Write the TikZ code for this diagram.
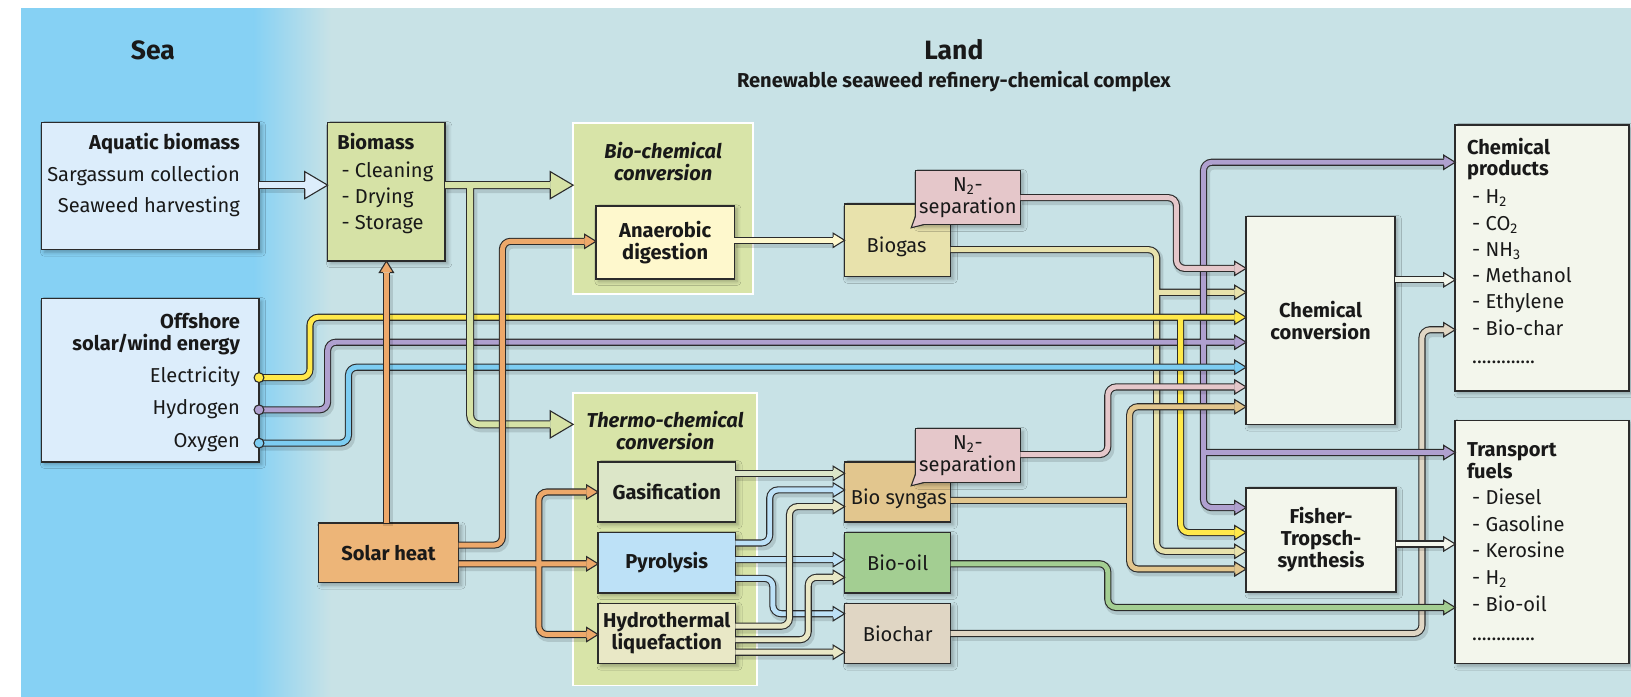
\documentclass[tikz,border=0pt]{standalone}
\usepackage{fontspec}
\setmainfont{Fira Sans}
\usetikzlibrary{calc, shadows.blur}

\definecolor{sea}{HTML}{86D1F4}
\definecolor{land}{HTML}{C8E2E6}
\definecolor{edge}{HTML}{2B2B2B}
\definecolor{aquafill}{HTML}{DCEDFB}
\definecolor{biomassfill}{HTML}{D6E2A6}
\definecolor{panelfill}{HTML}{D8E4A8}
\definecolor{anaerfill}{HTML}{FEF8CD}
\definecolor{gasiffill}{HTML}{DCE6C8}
\definecolor{pyrofill}{HTML}{BDE1F7}
\definecolor{hydrofill}{HTML}{E9E8C6}
\definecolor{solarfill}{HTML}{EDB578}
\definecolor{biogasfill}{HTML}{E8E2AC}
\definecolor{sepfill}{HTML}{E5C7CA}
\definecolor{syngasfill}{HTML}{E2C68E}
\definecolor{biooilfill}{HTML}{A3CE92}
\definecolor{biocharfill}{HTML}{E0D6C4}
\definecolor{productfill}{HTML}{F3F6EC}
\definecolor{elecpipe}{HTML}{FFE94A}
\definecolor{h2pipe}{HTML}{AFA0CF}
\definecolor{o2pipe}{HTML}{7DCDF2}
\definecolor{heatpipe}{HTML}{EDA86A}

% arrow heads, drawn on top of the pipe end (y axis runs downwards)
\newcommand{\tipE}[2]{%
  \fill[#1] (#2) -- ++(-11,-6.8) -- ++(0,13.6) -- cycle;
  \draw[tipline] ($(#2)+(-11,-3.4)$) -- ++(0,-3.4) -- (#2) -- ++(-11,6.8) -- ++(0,-3.4);}
\newcommand{\tipN}[2]{%
  \fill[#1] (#2) -- ++(-6.8,11) -- ++(13.6,0) -- cycle;
  \draw[tipline] ($(#2)+(-3.4,11)$) -- ++(-3.4,0) -- (#2) -- ++(6.8,11) -- ++(-3.4,0);}
\newcommand{\bigtipE}[2]{%
  \fill[#1] (#2) -- ++(-22,-13) -- ++(0,26) -- cycle;
  \draw[tipline] ($(#2)+(-22,-3.9)$) -- ++(0,-9.1) -- (#2) -- ++(-22,13) -- ++(0,-9.1);}

\begin{document}
\begin{tikzpicture}[x=0.02cm, y=-0.02cm,
  txt/.style={inner sep=0pt, font=\fontsize{11}{12}\selectfont, text=black!90},
  box/.style={draw=edge, line width=.8pt, fill=#1, inner sep=0pt, outer sep=0pt, align=center,
    font=\fontsize{11}{12}\selectfont, text=black!90,
    blur shadow={shadow xshift=1.5pt, shadow yshift=-1.5pt, shadow blur steps=6, shadow opacity=30}},
  panel/.style={draw=white, line width=1pt, fill=panelfill, inner sep=0pt, outer sep=0pt},
  sz/.style 2 args={minimum width=#1*0.02cm, minimum height=#2*0.02cm},
  pipeshade/.style={preaction={draw=black, opacity=.12, line width=#1,
    transform canvas={shift={(.9pt,-1.3pt)}}}},
  pipe/.style={draw=#1, line width=2.7pt, rounded corners=4.5pt, pipeshade=5.5pt,
    preaction={draw=edge, line width=3.9pt}},
  bigpipe/.style={draw=#1, line width=3.2pt, rounded corners=5pt, pipeshade=6pt,
    preaction={draw=edge, line width=4.4pt}},
  tipline/.style={draw=edge, line width=.6pt, line join=miter},
  port/.style={draw=edge, line width=.6pt, fill=#1}]

% sea and land
\fill[white] (0,0) rectangle (1568,670);
\fill[land] (20,8) rectangle (1568,670);
\fill[sea] (20,8) rectangle (245,670);
\shade[left color=sea, right color=land] (244,8) rectangle (318,670);
\useasboundingbox (0,0) rectangle (1568,670);

\node[txt, font=\fontsize{14.5}{16}\selectfont\bfseries] (seaT) at (147,48) {Sea};
\node[txt, font=\fontsize{14.5}{16}\selectfont\bfseries] (landT) at (917,48) {Land};
\node[txt, font=\fontsize{11}{12}\selectfont\bfseries] (landS) at (917,78) {Renewable seaweed refinery-chemical complex};

% conversion panels
\node[panel, sz={173}{165}] (biopanel) at (637.5,200.5) {};
\node[panel, sz={177}{281}] (thermopanel) at (639.5,518.5) {};
\node[txt, align=center, font=\fontsize{11}{12}\selectfont\bfseries\itshape] (bioT) at (637.5,155) {Bio-chemical\\conversion};
\node[txt, align=center, font=\fontsize{11}{12}\selectfont\bfseries\itshape] (thermoT) at (639.5,414) {Thermo-chemical\\conversion};

% sea side
\node[box=aquafill, sz={209}{122}] (aqua) at (144.5,179) {};
\node[txt, anchor=mid east, font=\fontsize{11}{12}\selectfont\bfseries] (aquaT) at (231,139) {Aquatic biomass};
\node[txt, anchor=mid east] (aqua1) at (231,170) {Sargassum collection};
\node[txt, anchor=mid east] (aqua2) at (231,200) {Seaweed harvesting};

\node[box=aquafill, sz={209}{157}] (offsh) at (144.5,365.5) {};
\node[txt, anchor=mid east, font=\fontsize{11}{12}\selectfont\bfseries] (offshT) at (231,311) {Offshore};
\node[txt, anchor=mid east, font=\fontsize{11}{12}\selectfont\bfseries] (offshS) at (231,332) {solar/wind energy};
\node[txt, anchor=mid east] (offsh1) at (231,363) {Electricity};
\node[txt, anchor=mid east] (offsh2) at (231,394) {Hydrogen};
\node[txt, anchor=mid east] (offsh3) at (231,426) {Oxygen};
\coordinate (elec) at (offsh.east |- 0,363);
\coordinate (hydr) at (offsh.east |- 0,394);
\coordinate (oxyg) at (offsh.east |- 0,426);

% pretreatment and heat
\node[box=biomassfill, sz={113}{133}] (biomass) at (371.5,184.5) {};
\node[txt, anchor=mid west, font=\fontsize{11}{12}\selectfont\bfseries] (biomassT) at (324,139) {Biomass};
\node[txt, anchor=mid west] (biomass1) at (328,166) {- Cleaning};
\node[txt, anchor=mid west] (biomass2) at (328,191) {- Drying};
\node[txt, anchor=mid west] (biomass3) at (328,216) {- Storage};
\node[box=solarfill, sz={135}{57}, font=\fontsize{11}{12}\selectfont\bfseries] (solar) at (373.5,531.5) {Solar heat};

% conversion steps
\node[box=anaerfill, sz={133}{70}, font=\fontsize{11}{12}\selectfont\bfseries] (anaer) at (639.5,233) {Anaerobic\\digestion};
\node[box=gasiffill, sz={132}{58}, font=\fontsize{11}{12}\selectfont\bfseries] (gasif) at (641,473) {Gasification};
\node[box=pyrofill, sz={132}{58}, font=\fontsize{11}{12}\selectfont\bfseries] (pyro) at (641,541) {Pyrolysis};
\node[box=hydrofill, sz={132}{58}, font=\fontsize{11}{12}\selectfont\bfseries] (hydro) at (641,609) {Hydrothermal\\liquefaction};

% intermediates
\node[box=biogasfill, sz={102}{70}] (biogas) at (863,231) {};
\node[txt] (biogasT) at (862,237) {Biogas};
\node[box=syngasfill, sz={102}{58}] (syngas) at (863,473) {};
\node[txt] (syngasT) at (864,480) {Bio syngas};
\node[box=biooilfill, sz={102}{58}] (biooil) at (863,541) {Bio-oil};
\node[box=biocharfill, sz={102}{58}] (biochar) at (863,609) {Biochar};

% N2 separation call-outs
\node[box=sepfill, sz={101}{52}] (sepA) at (930.5,190) {N\textsubscript{2}-\\separation};
\fill[sepfill] ($(sepA.south west)+(0.5,-8)$) -- ($(sepA.south west)+(-4,3)$) -- ($(sepA.south west)+(8,-0.5)$) -- cycle;
\draw[tipline] ($(sepA.south west)+(0,-8)$) -- ($(sepA.south west)+(-4,3)$) -- ($(sepA.south west)+(8,0)$);
\node[box=sepfill, sz={101}{52}] (sepB) at (930.5,438) {N\textsubscript{2}-\\separation};
\fill[sepfill] ($(sepB.south west)+(0.5,-8)$) -- ($(sepB.south west)+(-4,3)$) -- ($(sepB.south west)+(8,-0.5)$) -- cycle;
\draw[tipline] ($(sepB.south west)+(0,-8)$) -- ($(sepB.south west)+(-4,3)$) -- ($(sepB.south west)+(8,0)$);

% synthesis
\node[box=productfill, sz={143}{200}, font=\fontsize{11}{12}\selectfont\bfseries] (chemconv) at (1269.5,308) {Chemical\\conversion};
\node[box=productfill, sz={144}{100}, font=\fontsize{11}{12}\selectfont\bfseries] (fischer) at (1270,519) {Fisher-\\Tropsch-\\synthesis};

% products
\node[box=productfill, sz={167}{256}] (chemprod) at (1482.5,248) {};
\node[txt, anchor=mid west, font=\fontsize{11}{12}\selectfont\bfseries] (chemprodT) at (1410,144) {Chemical};
\node[txt, anchor=mid west, font=\fontsize{11}{12}\selectfont\bfseries] (chemprodS) at (1410,164.5) {products};
\node[txt, anchor=mid west] (chemprod1) at (1415,191) {- H\textsubscript{2}};
\node[txt, anchor=mid west] (chemprod2) at (1415,217) {- CO\textsubscript{2}};
\node[txt, anchor=mid west] (chemprod3) at (1415,242) {- NH\textsubscript{3}};
\node[txt, anchor=mid west] (chemprod4) at (1415,267) {- Methanol};
\node[txt, anchor=mid west] (chemprod5) at (1415,292) {- Ethylene};
\node[txt, anchor=mid west] (chemprod6) at (1415,318) {- Bio-char};
\node[txt, anchor=mid west] (chemprod7) at (1415,345) {.............};

\node[box=productfill, sz={167}{234}] (fuels) at (1482.5,521) {};
\node[txt, anchor=mid west, font=\fontsize{11}{12}\selectfont\bfseries] (fuelsT) at (1410,434.5) {Transport};
\node[txt, anchor=mid west, font=\fontsize{11}{12}\selectfont\bfseries] (fuelsS) at (1410,455) {fuels};
\node[txt, anchor=mid west] (fuels1) at (1415,480) {- Diesel};
\node[txt, anchor=mid west] (fuels2) at (1415,506) {- Gasoline};
\node[txt, anchor=mid west] (fuels3) at (1415,531) {- Kerosine};
\node[txt, anchor=mid west] (fuels4) at (1415,557) {- H\textsubscript{2}};
\node[txt, anchor=mid west] (fuels5) at (1415,583.5) {- Bio-oil};
\node[txt, anchor=mid west] (fuels6) at (1415,611) {.............};

% pipe ends, one head length before each inlet
\coordinate (biomass-in) at ([xshift=-0.44cm]biomass.west);
\coordinate (biopanel-in) at ([xshift=-0.44cm]biopanel.west);
\coordinate (thermopanel-in) at ([xshift=-0.44cm]thermopanel.west);
\coordinate (biomass-up) at ([yshift=-0.22cm]biomass.south);
\coordinate (anaer-in) at ([xshift=-0.22cm]anaer.west);
\coordinate (gasif-in) at ([xshift=-0.22cm]gasif.west);
\coordinate (pyro-in) at ([xshift=-0.22cm]pyro.west);
\coordinate (hydro-in) at ([xshift=-0.22cm]hydro.west);
\coordinate (biogas-in) at ([xshift=-0.22cm]biogas.west);
\coordinate (syngas-in) at ([xshift=-0.22cm]syngas.west);
\coordinate (biooil-in) at ([xshift=-0.22cm]biooil.west);
\coordinate (biochar-in) at ([xshift=-0.22cm]biochar.west);
\coordinate (chemconv-in) at ([xshift=-0.22cm]chemconv.west);
\coordinate (fischer-in) at ([xshift=-0.22cm]fischer.west);
\coordinate (chemprod-in) at ([xshift=-0.22cm]chemprod.west);
\coordinate (fuels-in) at ([xshift=-0.22cm]fuels.west);

% long lines on the right
\draw[pipe=biocharfill] (biochar.east |- 0,609) -- (1367,609) -- (1367,317) -- (chemprod-in |- 0,317);
\tipE{biocharfill}{chemprod.west |- 0,317}
\draw[pipe=biooilfill] (biooil.east |- 0,542) -- (1065,542) -- (1065,584) -- (fuels-in |- 0,584);
\tipE{biooilfill}{fuels.west |- 0,584}
\draw[pipe=biogasfill] (biogas.east |- 0,240) -- (1112,240) -- (1112,530) -- (fischer-in |- 0,530)
  (1112,281) -- (chemconv-in |- 0,281);
\tipE{biogasfill}{chemconv.west |- 0,281}
\tipE{biogasfill}{fischer.west |- 0,530}

% hydrogen, electricity, oxygen from offshore
\draw[pipe=h2pipe] (hydr) -- (315,394) -- (315,329) -- (chemconv-in |- 0,329)
  (chemprod-in |- 0,156) -- (1157,156) -- (1157,488) -- (fischer-in |- 0,488)
  (1157,435) -- (fuels-in |- 0,435);
\tipE{h2pipe}{chemconv.west |- 0,329}
\tipE{h2pipe}{chemprod.west |- 0,156}
\tipE{h2pipe}{fischer.west |- 0,488}
\tipE{h2pipe}{fuels.west |- 0,435}
\draw[pipe=elecpipe] (elec) -- (298,363) -- (298,305) -- (chemconv-in |- 0,305)
  (1135,305) -- (1135,512) -- (fischer-in |- 0,512);
\tipE{elecpipe}{chemconv.west |- 0,305}
\tipE{elecpipe}{fischer.west |- 0,512}
\draw[pipe=o2pipe] (oxyg) -- (335,426) -- (335,353) -- (chemconv-in |- 0,353);
\tipE{o2pipe}{chemconv.west |- 0,353}
\filldraw[port=elecpipe] (elec) circle (2.7pt);
\filldraw[port=h2pipe] (hydr) circle (2.7pt);
\filldraw[port=o2pipe] (oxyg) circle (2.7pt);

% separated gases and syngas
\draw[pipe=sepfill] (sepA.east |- 0,190) -- (1131,190) -- (1131,258) -- (chemconv-in |- 0,258);
\tipE{sepfill}{chemconv.west |- 0,258}
\draw[pipe=sepfill] (sepB.east |- 0,437) -- (1065,437) -- (1065,372) -- (chemconv-in |- 0,372);
\tipE{sepfill}{chemconv.west |- 0,372}
\draw[pipe=syngasfill] (syngas.east |- 0,481) -- (1086,481)
  (chemconv-in |- 0,391) -- (1086,391) -- (1086,547) -- (fischer-in |- 0,547);
\tipE{syngasfill}{chemconv.west |- 0,391}
\tipE{syngasfill}{fischer.west |- 0,547}

% products out
\draw[pipe=productfill] (chemconv.east |- 0,269) -- (chemprod-in |- 0,269);
\tipE{productfill}{chemprod.west |- 0,269}
\draw[pipe=productfill] (fischer.east |- 0,523) -- (fuels-in |- 0,523);
\tipE{productfill}{fuels.west |- 0,523}

% biomass feed
\draw[bigpipe=aquafill] (aqua.east |- 0,178) -- (biomass-in |- 0,178);
\bigtipE{aquafill}{biomass.west |- 0,178}
\draw[bigpipe=biomassfill] (biomass.east |- 0,178) -- (biopanel-in |- 0,178)
  (452,178) -- (452,408) -- (thermopanel-in |- 0,408);
\bigtipE{biomassfill}{biopanel.west |- 0,178}
\bigtipE{biomassfill}{thermopanel.west |- 0,408}

% solar heat
\draw[pipe=heatpipe] (biomass-up |- solar.north) -- (biomass-up);
\tipN{heatpipe}{biomass.south}
\draw[pipe=heatpipe] (solar.east |- 0,524) -- (483,524) -- (483,232) -- (anaer-in |- 0,232);
\tipE{heatpipe}{anaer.west |- 0,232}
\draw[pipe=heatpipe] (solar.east |- 0,542) -- (pyro-in |- 0,542)
  (gasif-in |- 0,473) -- (518,473) -- (518,610) -- (hydro-in |- 0,610);
\tipE{heatpipe}{pyro.west |- 0,542}
\tipE{heatpipe}{gasif.west |- 0,473}
\tipE{heatpipe}{hydro.west |- 0,610}

% conversion products
\draw[pipe=anaerfill] (anaer.east |- 0,231) -- (biogas-in |- 0,231);
\tipE{anaerfill}{biogas.west |- 0,231}
\draw[pipe=gasiffill] (gasif.east |- 0,455) -- (syngas-in |- 0,455);
\tipE{gasiffill}{syngas.west |- 0,455}
\draw[pipe=pyrofill] (pyro.east |- 0,522) -- (740,522) -- (740,471) -- (syngas-in |- 0,471)
  (pyro.east |- 0,538) -- (biooil-in |- 0,538)
  (pyro.east |- 0,556) -- (743,556) -- (743,590) -- (biochar-in |- 0,590);
\tipE{pyrofill}{syngas.west |- 0,471}
\tipE{pyrofill}{biooil.west |- 0,538}
\tipE{pyrofill}{biochar.west |- 0,590}
\draw[pipe=hydrofill] (hydro.east |- 0,602) -- (759,602) -- (759,487) -- (syngas-in |- 0,487)
  (hydro.east |- 0,615) -- (777,615) -- (777,555) -- (biooil-in |- 0,555)
  (hydro.east |- 0,627) -- (biochar-in |- 0,627);
\tipE{hydrofill}{syngas.west |- 0,487}
\tipE{hydrofill}{biooil.west |- 0,555}
\tipE{hydrofill}{biochar.west |- 0,627}
\end{tikzpicture}
\end{document}
